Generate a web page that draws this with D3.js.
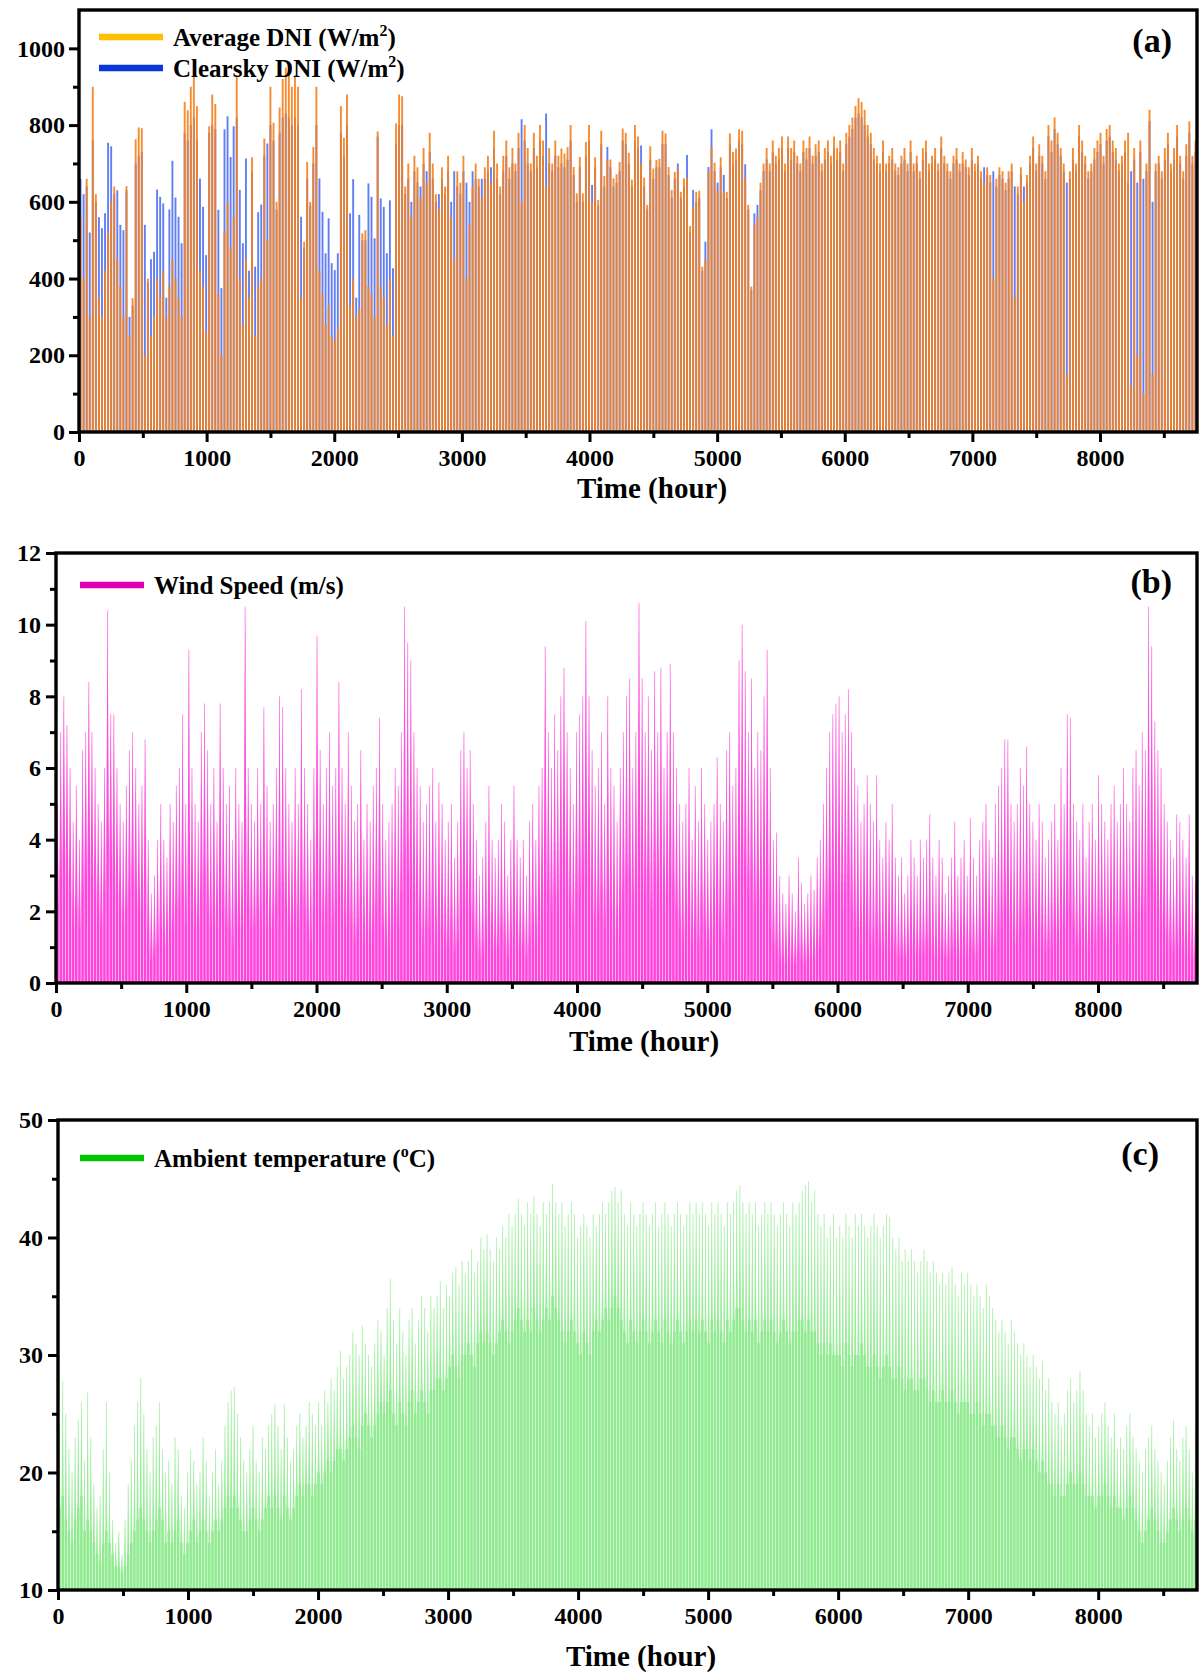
<!DOCTYPE html>
<html>
<head>
<meta charset="utf-8">
<script src="https://cdn.jsdelivr.net/npm/d3@7"></script>
<style>
  body { margin: 0; background: #fff; }
  svg text { font-family: "Liberation Serif", "Times New Roman", serif; font-weight: bold; fill: #000; }
</style>
</head>
<body>
<svg id="chart" width="1202" height="1675"></svg>
<script>
// ---- Daily values over one year (365 days, hour axis 0..8760) ----
// Daily peak of the average DNI (W/m2)
const avgDNI = [
  560, 400, 660, 300, 900, 620, 350, 300, 420, 520,
  600, 640, 450, 380, 300, 641, 250, 349, 763, 794,
  792, 200, 400, 250, 300, 400, 350, 420, 300, 380,
  450, 400, 350, 300, 861, 839, 900, 930, 849, 420,
  380, 260, 797, 880, 855, 360, 200, 520, 600, 480,
  560, 930, 400, 280, 450, 350, 716, 250, 380, 400,
  765, 500, 900, 806, 600, 846, 920, 950, 940, 900,
  930, 900, 350, 496, 704, 600, 743, 900, 420, 360,
  280, 330, 250, 240, 270, 849, 767, 880, 330, 400,
  300, 320, 518, 526, 380, 360, 300, 783, 380, 350,
  280, 400, 250, 804, 880, 875, 640, 700, 560, 720,
  690, 610, 740, 650, 780, 700, 620, 580, 690, 640,
  720, 560, 450, 680, 650, 720, 400, 540, 640, 700,
  660, 610, 690, 720, 650, 785, 700, 640, 720, 760,
  690, 740, 700, 780, 600, 800, 740, 700, 780, 720,
  800, 760, 640, 740, 700, 760, 720, 739, 726, 742,
  800, 691, 622, 717, 622, 756, 800, 600, 716, 605,
  785, 667, 709, 710, 661, 672, 704, 791, 780, 728,
  658, 800, 770, 700, 663, 592, 745, 687, 709, 712,
  785, 778, 691, 631, 678, 687, 626, 661, 661, 537,
  587, 626, 629, 431, 450, 680, 743, 702, 630, 716,
  626, 626, 778, 730, 739, 789, 785, 660, 592, 379,
  540, 560, 650, 700, 740, 700, 760, 720, 740, 770,
  700, 770, 740, 760, 720, 700, 760, 740, 770, 720,
  750, 760, 700, 740, 760, 720, 770, 740, 760, 700,
  780, 800, 820, 850, 870, 860, 840, 800, 780, 740,
  720, 700, 760, 700, 720, 740, 700, 690, 720, 740,
  700, 760, 700, 720, 680, 740, 760, 700, 720, 740,
  700, 770, 720, 700, 680, 720, 740, 700, 730, 710,
  690, 740, 700, 720, 680, 650, 690, 670, 400, 660,
  690, 680, 650, 680, 700, 350, 640, 690, 600, 670,
  720, 770, 700, 750, 720, 680, 800, 760, 820, 780,
  740, 700, 150, 680, 740, 700, 800, 760, 720, 680,
  700, 740, 760, 780, 720, 790, 800, 760, 740, 700,
  720, 760, 780, 120, 740, 200, 760, 100, 700, 840,
  150, 700, 720, 680, 740, 780, 700, 740, 800, 720,
  680, 750, 810, 720, 760
];

// Daily peak of the clear-sky DNI (W/m2)
const clearDNI = [
  660, 620, 640, 520, 760, 600, 560, 531, 570, 754,
  745, 620, 630, 540, 526, 630, 300, 330, 700, 720,
  730, 540, 390, 450, 470, 632, 613, 596, 350, 580,
  707, 611, 561, 492, 780, 760, 800, 820, 760, 661,
  587, 461, 780, 800, 790, 579, 375, 789, 823, 717,
  797, 820, 631, 492, 713, 420, 680, 431, 573, 593,
  720, 752, 800, 760, 580, 780, 820, 830, 820, 800,
  820, 800, 561, 480, 660, 590, 700, 800, 661, 574,
  466, 557, 440, 422, 466, 780, 720, 800, 570, 659,
  350, 566, 500, 500, 648, 613, 505, 770, 609, 587,
  466, 604, 427, 750, 800, 800, 620, 660, 600, 680,
  650, 640, 700, 680, 730, 660, 600, 620, 660, 620,
  680, 600, 680, 640, 620, 680, 650, 600, 680, 660,
  640, 660, 660, 680, 690, 740, 660, 620, 680, 720,
  660, 700, 680, 740, 815, 760, 700, 680, 740, 690,
  760, 720, 830, 700, 680, 720, 690, 700, 690, 710,
  760, 670, 600, 690, 600, 720, 760, 644, 690, 590,
  750, 640, 743, 690, 640, 650, 680, 760, 750, 700,
  640, 760, 740, 747, 640, 580, 710, 660, 690, 690,
  750, 750, 670, 610, 660, 700, 610, 640, 722, 520,
  631, 600, 610, 420, 496, 691, 789, 680, 650, 690,
  670, 610, 750, 700, 710, 760, 750, 698, 580, 370,
  570, 592, 630, 680, 710, 680, 730, 700, 710, 740,
  680, 740, 710, 730, 700, 680, 730, 710, 740, 700,
  720, 730, 680, 710, 730, 700, 740, 710, 730, 680,
  750, 770, 790, 820, 830, 820, 800, 770, 750, 710,
  700, 680, 730, 680, 700, 710, 680, 670, 700, 710,
  680, 730, 680, 700, 660, 710, 730, 680, 700, 710,
  680, 740, 700, 680, 660, 700, 710, 680, 700, 690,
  670, 710, 680, 700, 660, 690, 670, 650, 680, 640,
  670, 660, 630, 660, 680, 640, 620, 670, 640, 650,
  700, 740, 680, 720, 700, 660, 770, 730, 790, 750,
  720, 680, 650, 660, 710, 680, 770, 730, 700, 660,
  680, 710, 730, 750, 700, 760, 770, 730, 710, 680,
  700, 730, 650, 680, 710, 650, 730, 660, 680, 810,
  600, 680, 700, 660, 710, 750, 680, 710, 770, 700,
  660, 720, 780, 700, 730
];

// Daily maximum wind speed (m/s)
const windMax = [
  5, 7, 8, 7.2, 6, 4.5, 5.5, 4, 6.5, 7,
  8.4, 7, 6, 5, 4.5, 6, 10.4, 7.5, 7.5, 6,
  5, 4.5, 5.5, 6.5, 7, 6, 5, 5.5, 6.8, 4,
  2.5, 3, 4, 5, 4, 3.5, 5, 4.5, 5.5, 6,
  7.5, 5, 9.3, 6, 5, 4.5, 7, 7.8, 6.5, 5,
  6, 4.5, 7.8, 6, 5, 5.5, 4, 6, 5, 4.5,
  10.5, 6, 5, 4.5, 6, 5, 7.7, 5.5, 4.5, 5,
  6, 8, 7.7, 6, 5, 4.5, 6, 5, 8.2, 6,
  5, 4, 6, 9.7, 6.5, 5, 6, 7, 5.5, 6,
  8.4, 6, 5, 7, 5.5, 4.5, 5, 6.5, 4, 5,
  4.5, 5.5, 6, 7.4, 5, 4, 4.5, 5, 6, 5.5,
  7, 10.5, 9.5, 9, 7, 6, 5.5, 4.5, 5, 5.5,
  6, 4.5, 5.6, 5, 4, 4.5, 5, 3.5, 4.5, 6.5,
  7, 6, 6.5, 5, 4, 3, 3.5, 4.5, 5.5, 4,
  3.5, 4, 5, 4.5, 3, 4, 5.5, 4, 3.5, 4,
  3, 4.5, 5, 4, 5.5, 6, 9.4, 7, 6, 7.5,
  6.5, 8, 8.8, 7, 6, 5, 7, 7.5, 8, 10.1,
  8, 6.5, 5.5, 6, 7, 5, 8, 6, 5.5, 4.5,
  6, 7, 8, 8.5, 6, 7, 10.6, 8.5, 7, 8,
  6.5, 8.7, 7, 8.8, 6, 7, 8.9, 7, 6, 5,
  4.5, 5, 6, 4, 5.5, 4.5, 6, 5, 4, 4.5,
  5, 6.3, 5, 4.5, 6.5, 7, 5.5, 6, 9, 10,
  8.7, 7, 8.5, 6, 7, 6.5, 8, 9.3, 6, 4,
  4.2, 3, 2.5, 2.2, 3, 2.5, 2, 3.5, 2.8, 2.2,
  2.5, 3, 2.6, 3.5, 4, 5, 6, 7, 7.5, 7.8,
  8, 7, 7.5, 8.2, 7, 6, 5.5, 4.5, 5, 5.8,
  5, 4.5, 5.8, 4, 3.5, 4.5, 4, 5, 3.5, 3,
  3.5, 2.5, 3, 4, 3.5, 3, 4, 3.5, 4, 4.7,
  3.5, 3, 4, 3.5, 2.5, 3, 3.5, 4.5, 3, 3.5,
  4, 3, 4.6, 3.5, 3, 4, 4.5, 5, 4, 3.5,
  5, 5.5, 6, 6.8, 6.8, 5, 4.5, 5, 6, 5.5,
  6.6, 5, 4.5, 4, 5, 4.5, 3.5, 4, 4.5, 5,
  4, 6, 5, 7.5, 7.4, 5, 4.5, 4, 5, 3.5,
  4.5, 5, 4, 5.8, 5, 4.5, 4, 5, 5.5, 4.5,
  5, 6, 5, 4.5, 6, 6.5, 5.5, 7, 6.5, 10.5,
  9.4, 7.3, 6.5, 6, 5, 4.5, 4, 3.5, 4.7, 4.5,
  4, 3.5, 4.7, 3, 2.8
];

// Sustained (calm-hour) wind speed of each day (m/s)
const windBase = [
  2, 3, 3.5, 3, 2.5, 1.5, 2, 1.5, 2.5, 3,
  3.5, 3, 2.5, 2, 1.5, 2.5, 4, 3.5, 3, 2.5,
  2, 1.5, 2, 2.5, 3, 2.5, 2, 2, 2.5, 1,
  0.6, 0.8, 1, 1.5, 1, 1, 1.5, 1.5, 2, 2,
  2.5, 1.5, 3, 2, 1.5, 1.5, 2.5, 3, 2, 1.5,
  2, 1.5, 2.5, 2, 1.5, 1.5, 1, 2, 1.5, 1.5,
  3.5, 2, 1.5, 1.5, 2, 1.5, 2.5, 1.5, 1.5, 1.5,
  2, 2.5, 2.5, 2, 1.5, 1.5, 2, 1.5, 2.5, 2,
  1.5, 1, 2, 3, 2, 1.5, 2, 2.5, 1.5, 2,
  2.5, 2, 1.5, 2, 1.5, 1, 1.5, 2, 1, 1.5,
  1, 1.5, 2, 2.5, 1.5, 1, 1, 1.5, 2, 1.5,
  2.5, 3.5, 3, 3, 2.5, 2, 1.5, 1, 1.5, 1.5,
  2, 1, 1.5, 1.5, 1, 1, 1.5, 0.8, 1, 2,
  2.5, 2, 2, 1.5, 1, 0.6, 0.8, 1, 1.5, 1,
  0.8, 1, 1.5, 1, 0.6, 1, 1.5, 1, 0.8, 1,
  0.6, 1, 1.5, 1, 1.5, 2, 3.5, 2.5, 2, 2.5,
  2, 3, 3.5, 2.5, 2, 1.5, 2.5, 2.5, 3, 3.5,
  3, 2, 1.5, 2, 2.5, 1.5, 2.5, 2, 1.5, 1,
  2, 2.5, 3, 3, 2, 2.5, 4, 3, 2.5, 3,
  2, 3, 2.5, 3, 2, 2.5, 3, 2.5, 2, 1.5,
  1, 1.5, 2, 1, 1.5, 1, 2, 1.5, 1, 1,
  1.5, 2, 1.5, 1, 2, 2.5, 1.5, 2, 3, 3.5,
  3, 2.5, 3, 2, 2.5, 2, 2.5, 3, 1.5, 1,
  1, 0.6, 0.5, 0.5, 0.6, 0.5, 0.5, 0.8, 0.6, 0.5,
  0.6, 0.6, 0.6, 0.8, 1, 1.5, 2, 2.5, 2.5, 2.5,
  2.5, 2, 2.5, 3, 2, 1.5, 1.5, 1, 1.5, 1.5,
  1, 1, 1.5, 1, 0.8, 1, 0.8, 1, 0.8, 0.6,
  0.8, 0.6, 0.6, 1, 0.8, 0.6, 0.8, 0.8, 1, 1,
  0.8, 0.6, 0.8, 0.8, 0.6, 0.6, 0.8, 1, 0.6, 0.8,
  1, 0.6, 1, 0.8, 0.6, 1, 1, 1.5, 1, 0.8,
  1, 1.5, 1.5, 2, 2, 1.5, 1, 1, 1.5, 1.5,
  2, 1.5, 1, 1, 1.5, 1, 0.8, 1, 1, 1.5,
  1, 1.5, 1.5, 2, 2, 1.5, 1, 1, 1.5, 0.8,
  1, 1.5, 1, 1.5, 1.5, 1, 1, 1.5, 1.5, 1,
  1.5, 2, 1.5, 1, 1.5, 2, 1.5, 2, 2, 3,
  3, 2.5, 2, 1.5, 1.5, 1, 1, 0.8, 1, 1,
  1, 0.8, 1, 0.6, 0.6
];

// Daily maximum ambient temperature (deg C)
const tempMax = [
  24, 27.8, 25, 22, 20, 23, 24.5, 26, 21, 26.8,
  23, 19, 17, 18, 22, 26, 20, 16, 14, 15,
  13, 16, 19, 21, 24, 26, 28, 25, 22, 20,
  23, 24, 26, 22, 20, 21, 19, 23, 22, 18,
  17, 20, 22, 21, 19, 20, 23, 21, 18, 20,
  22, 19, 21, 24, 26, 27, 27.3, 25, 23, 21,
  20, 22, 24, 21, 20, 23, 22, 24, 25, 25.8,
  24, 22, 25.8, 23, 21, 22, 24, 25, 23, 24,
  26, 25, 24, 26, 24, 27, 26, 28, 27, 29,
  30.4, 28, 29, 30, 32, 31, 30, 32.5, 31, 30,
  29, 31, 33, 32, 30, 34, 36.5, 33, 31, 34,
  32, 30, 33, 34, 31, 33, 35, 34, 32, 35,
  34, 35, 36.3, 34, 36, 35, 37, 37.5, 36, 38,
  37, 38, 39, 37, 38, 40, 39, 40.3, 39, 38,
  40, 39, 41, 40, 42, 41, 42, 43.3, 42, 41,
  43, 42, 43.5, 42, 41, 43, 42, 43, 44.6, 43,
  42, 43, 41, 42, 43, 42, 40, 41, 42, 41,
  40, 42, 41, 42, 43, 42, 43, 44, 44.3, 43,
  44, 42, 41, 43, 42, 41, 42, 43, 42, 41,
  42, 43, 41, 42, 43, 42, 41, 42, 43, 42,
  41, 42, 43, 42, 43, 42, 43, 42, 41, 43,
  42, 43, 42, 41, 43, 42, 43, 44, 44.4, 43,
  42, 43, 42, 43, 41, 42, 43, 42, 43, 42,
  41, 42, 43, 42, 41, 43, 42, 43, 44, 44.5,
  44.8, 43, 44, 42, 41, 42, 40, 41, 42, 40,
  41, 40, 42, 41, 40, 42, 41, 42, 41, 40,
  41, 42, 41, 40, 41, 42, 41.7, 40, 39, 40,
  38, 39, 38, 39, 38, 37, 38, 39, 38, 37,
  38, 37, 36, 37, 36, 37, 37.5, 36, 35, 37,
  36, 37, 36, 35, 36, 35, 34, 36, 35, 34,
  33, 32, 33, 32, 31, 33, 32, 31, 30, 31,
  30, 29, 30, 29, 28, 29.5, 27, 28, 26, 25,
  26, 24, 25, 27, 28, 26, 27, 28.6, 27, 25,
  24, 25, 23, 24, 25, 26, 24, 23, 25, 22,
  23, 22, 24, 25, 23, 22, 21, 20, 22, 23,
  24, 22, 21, 20, 19, 21, 23, 24.5, 22, 21,
  23, 24, 22, 20, 24
];

// Daily minimum ambient temperature (deg C)
const tempMin = [
  17, 18, 16, 15, 14, 16, 17, 18, 15, 16,
  15, 14, 13, 12.5, 14, 15, 14, 13, 12, 12,
  11.5, 12, 13, 14, 15, 16, 17, 16, 15, 14,
  15, 16, 17, 16, 14, 15, 14, 15, 16, 14,
  13, 14, 15, 16, 14, 15, 16, 15, 14, 15,
  16, 15, 16, 17, 18, 17, 18, 17, 16, 15,
  15, 16, 17, 16, 15, 16, 17, 18, 17, 18,
  17, 16, 18, 17, 16, 17, 18, 19, 18, 19,
  19, 18, 19, 20, 19, 20, 21, 20, 21, 22,
  22, 21, 22, 23, 24, 23, 22, 24, 25, 24,
  23, 24, 25, 26, 25, 26, 27, 25, 24, 26,
  25, 24, 26, 27, 25, 26, 27, 26, 25, 27,
  27, 28, 28, 27, 28, 29, 30, 29, 28, 30,
  30, 31, 30, 29, 31, 32, 31, 32, 31, 30,
  31, 32, 33, 32, 31, 32, 33, 34, 33, 32,
  33, 32, 34, 33, 32, 33, 34, 33, 35, 34,
  33, 32, 31, 32, 33, 32, 31, 30, 32, 31,
  30, 32, 33, 32, 33, 34, 33, 34, 35, 34,
  33, 32, 31, 33, 32, 31, 32, 33, 32, 31,
  32, 33, 32, 31, 33, 32, 31, 32, 33, 32,
  31, 32, 33, 32, 33, 32, 33, 32, 31, 33,
  32, 33, 32, 31, 33, 32, 33, 34, 34, 33,
  32, 33, 32, 33, 31, 32, 33, 32, 33, 32,
  31, 32, 33, 32, 31, 32, 32, 33, 33, 32,
  33, 32, 32, 31, 30, 31, 30, 31, 30, 30,
  30, 29, 31, 30, 29, 30, 30, 31, 30, 29,
  29, 30, 29, 28, 29, 30, 29, 28, 28, 29,
  28, 27, 28, 28, 27, 27, 28, 28, 27, 26,
  27, 26, 26, 27, 26, 26, 27, 26, 25, 26,
  26, 26, 25, 25, 26, 25, 24, 25, 25, 24,
  24, 23, 24, 23, 22, 23, 23, 22, 21, 22,
  22, 21, 22, 21, 20, 21, 20, 19, 19, 18,
  19, 18, 18, 19, 20, 19, 19, 20, 19, 18,
  18, 18, 17, 18, 18, 19, 18, 17, 18, 17,
  17, 16, 17, 18, 17, 16, 15, 14, 15, 16,
  17, 16, 15, 14, 14, 15, 16, 17, 16, 15,
  16, 17, 16, 15, 16
];

// Axis tick values
const hourTicks = [0, 1000, 2000, 3000, 4000, 5000, 6000, 7000, 8000];
const hourMinorTicks = [500, 1500, 2500, 3500, 4500, 5500, 6500, 7500, 8500];
const dniTicks = [0, 200, 400, 600, 800, 1000];
const dniMinorTicks = [100, 300, 500, 700, 900];
const windTicks = [0, 2, 4, 6, 8, 10, 12];
const windMinorTicks = [1, 3, 5, 7, 9, 11];
const tempTicks = [10, 20, 30, 40, 50];
const tempMinorTicks = [15, 25, 35, 45];

const HOURS_PER_DAY = 24;
const days = d3.range(avgDNI.length);
const svg = d3.select("#chart");

// Builds one framed panel with its scales and axes; returns the scales and a mark layer.
function panel(cfg) {
  const x = d3.scaleLinear().domain([0, 8760]).range([cfg.left, cfg.right]);
  const y = d3.scaleLinear().domain(cfg.yDomain).range([cfg.bottom, cfg.top]);
  const g = svg.append("g");
  const marks = g.append("g");

  const styleAxis = (ax) => {
    ax.attr("font-size", 24);
    ax.select(".domain").remove();
    ax.selectAll(".tick line").attr("stroke", "#000").attr("stroke-width", 3);
    ax.selectAll(".tick text").attr("fill", "#000");
  };

  g.append("g").attr("transform", `translate(0,${cfg.bottom})`)
    .call(d3.axisBottom(x).tickValues(hourTicks).tickSize(10).tickPadding(7).tickFormat(d3.format("d")))
    .call(styleAxis);
  g.append("g").attr("transform", `translate(0,${cfg.bottom})`)
    .call(d3.axisBottom(x).tickValues(hourMinorTicks).tickSize(6).tickFormat(""))
    .call(styleAxis);
  g.append("g").attr("transform", `translate(${cfg.left},0)`)
    .call(d3.axisLeft(y).tickValues(cfg.yTicks).tickSize(10).tickPadding(cfg.yPad).tickFormat(d3.format("d")))
    .call(styleAxis);
  g.append("g").attr("transform", `translate(${cfg.left},0)`)
    .call(d3.axisLeft(y).tickValues(cfg.yMinor).tickSize(6).tickFormat(""))
    .call(styleAxis);

  g.append("rect")
    .attr("x", cfg.left).attr("y", cfg.top)
    .attr("width", cfg.right - cfg.left).attr("height", cfg.bottom - cfg.top)
    .attr("fill", "none").attr("stroke", "#000").attr("stroke-width", 3.4);

  g.append("text")
    .attr("x", cfg.titleX).attr("y", cfg.titleY)
    .attr("text-anchor", "middle").attr("font-size", 29)
    .text("Time (hour)");

  g.append("text")
    .attr("x", cfg.tagX).attr("y", cfg.tagY)
    .attr("text-anchor", "end").attr("font-size", 34)
    .text(cfg.tag);

  return { x, y, marks, g };
}

// Legend row: coloured swatch followed by a label with an optional superscript.
function legendRow(g, sx, sy, color, parts) {
  g.append("line")
    .attr("x1", sx).attr("x2", sx + 64).attr("y1", sy).attr("y2", sy)
    .attr("stroke", color).attr("stroke-width", 6.5);
  const t = g.append("text").attr("x", sx + 74).attr("y", sy + 9).attr("font-size", 25);
  parts.forEach(p => {
    if (p.sup) {
      t.append("tspan").attr("dy", -10).attr("font-size", 16).text(p.sup);
      t.append("tspan").attr("dy", 10).text(p.after);
    } else {
      t.append("tspan").text(p.text);
    }
  });
}

const dayCenter = d => d * HOURS_PER_DAY + 12;

// Tapered daily spike: full-width block up to the low value, narrowing to the daily peak.
// `shoulder` is the half-width (in hours) of the spike where it leaves the block.
function daySpike(x, y, floor, low, high, d, shoulder) {
  const x0 = x(d * HOURS_PER_DAY + 2), x1 = x(d * HOURS_PER_DAY + 22), xc = x(dayCenter(d));
  const xa = x(dayCenter(d) - shoulder), xb = x(dayCenter(d) + shoulder);
  return `M${x0},${y(floor)}L${x0},${y(low)}L${xa},${y(low)}L${xc},${y(high)}` +
         `L${xb},${y(low)}L${x1},${y(low)}L${x1},${y(floor)}Z`;
}

// ---------- (a) Direct normal irradiance ----------
const A = panel({
  left: 79, right: 1197, top: 10, bottom: 432,
  yDomain: [0, 1100], yTicks: dniTicks, yMinor: dniMinorTicks, yPad: 4,
  titleX: 652, titleY: 498, tagX: 1172, tagY: 52, tag: "(a)"
});
A.marks.selectAll("line.clear").data(days).join("line")
  .attr("class", "clear")
  .attr("x1", d => A.x(dayCenter(d))).attr("x2", d => A.x(dayCenter(d)))
  .attr("y1", A.y(0)).attr("y2", d => A.y(clearDNI[d]))
  .attr("stroke", "#4567f0").attr("stroke-width", 1.9).attr("stroke-opacity", 0.85);
A.marks.selectAll("line.avg").data(days).join("line")
  .attr("class", "avg")
  .attr("x1", d => A.x(dayCenter(d))).attr("x2", d => A.x(dayCenter(d)))
  .attr("y1", A.y(0)).attr("y2", d => A.y(avgDNI[d]))
  .attr("stroke", "#f5801c").attr("stroke-width", 1.9).attr("stroke-opacity", 0.9);
legendRow(A.g, 99, 37, "#ffbf00", [{ text: "Average DNI (W/m" }, { sup: "2", after: ")" }]);
legendRow(A.g, 99, 68, "#0b36d8", [{ text: "Clearsky DNI (W/m" }, { sup: "2", after: ")" }]);

// ---------- (b) Wind speed ----------
const B = panel({
  left: 56, right: 1197, top: 553, bottom: 983,
  yDomain: [0, 12], yTicks: windTicks, yMinor: windMinorTicks, yPad: 5,
  titleX: 644, titleY: 1051, tagX: 1172, tagY: 593, tag: "(b)"
});
B.marks.selectAll("path.wind").data(days).join("path")
  .attr("class", "wind")
  .attr("d", d => daySpike(B.x, B.y, 0, windBase[d], windMax[d], d, 10))
  .attr("fill", "#ff44db");
B.marks.selectAll("line.wpeak").data(days).join("line")
  .attr("class", "wpeak")
  .attr("x1", d => B.x(dayCenter(d))).attr("x2", d => B.x(dayCenter(d)))
  .attr("y1", d => B.y(windBase[d])).attr("y2", d => B.y(windMax[d]))
  .attr("stroke", "#ff55de").attr("stroke-width", 0.9).attr("stroke-opacity", 0.7);
legendRow(B.g, 80, 585, "#e000b4", [{ text: "Wind Speed (m/s)" }]);

// ---------- (c) Ambient temperature ----------
const C = panel({
  left: 58, right: 1197, top: 1120, bottom: 1590,
  yDomain: [10, 50], yTicks: tempTicks, yMinor: tempMinorTicks, yPad: 5,
  titleX: 641, titleY: 1666, tagX: 1159, tagY: 1165, tag: "(c)"
});
C.marks.selectAll("path.temp").data(days).join("path")
  .attr("class", "temp")
  .attr("d", d => daySpike(C.x, C.y, 10, tempMin[d], tempMax[d], d, 7))
  .attr("fill", "#90ea90");
C.marks.selectAll("line.tpeak").data(days).join("line")
  .attr("class", "tpeak")
  .attr("x1", d => C.x(dayCenter(d))).attr("x2", d => C.x(dayCenter(d)))
  .attr("y1", d => C.y(tempMin[d])).attr("y2", d => C.y(tempMax[d]))
  .attr("stroke", "#9eee9e").attr("stroke-width", 0.9).attr("stroke-opacity", 0.8);
legendRow(C.g, 80, 1158, "#00c400", [{ text: "Ambient temperature (" }, { sup: "o", after: "C)" }]);
</script>
</body>
</html>
